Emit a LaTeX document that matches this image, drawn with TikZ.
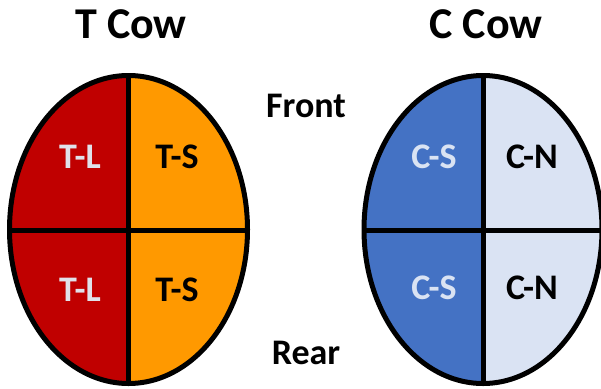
\documentclass[tikz,border=0pt]{standalone}
\usepackage{fontspec}
\setmainfont{Carlito}
\usetikzlibrary{positioning}
\definecolor{tred}{HTML}{C00000}
\definecolor{torange}{HTML}{FF9900}
\definecolor{cblue}{HTML}{4472C4}
\definecolor{clight}{HTML}{DAE3F3}
\definecolor{palegrey}{HTML}{E0E1EA}
\tikzset{%
	cow title/.style={
		font=\fontsize{44}{50}\selectfont\bfseries
	},
	quarter/.style={
		font=\fontsize{36}{42}\selectfont\bfseries
	},
	udder line/.style={
		line width=5pt
	},
}

\begin{document}
\begin{tikzpicture}[x=1pt,y=-1pt]
			\useasboundingbox (0,0) rectangle (601,388);
			\coordinate (tcenter) at (128.5,229.5);
			\coordinate (ccenter) at (483,229.5);
			
			% Draw the T cow
			\begin{scope}
				\clip (tcenter) ellipse (119 and 154);
				\fill[tred] (0,60) rectangle (tcenter |- 0,400);
				\fill[torange] (tcenter |- 0,60) rectangle (260,400);
			\end{scope}
			\draw[udder line] (128.5,76) -- (128.5,383);
			\draw[udder line] (10,230) -- (247,230);
			\draw[udder line] (tcenter) ellipse (119 and 154);
			\node[cow title] (tcow) at (131,24) {T Cow};
			\node[quarter, text=palegrey] (tl1) at (80,156.5) {T-L};
			\node[quarter] (ts1) at (177,156.5) {T-S};
			\node[quarter, text=palegrey] (tl2) at (80,290) {T-L};
			\node[quarter] (ts2) at (177,290) {T-S};
			
			% Draw the C cow
			\begin{scope}
				\clip (ccenter) ellipse (119 and 154);
				\fill[cblue] (350,60) rectangle (ccenter |- 0,400);
				\fill[clight] (ccenter |- 0,60) rectangle (620,400);
			\end{scope}
			\draw[udder line] (483,76) -- (483,383);
			\draw[udder line] (364,230) -- (601,230);
			\draw[udder line] (ccenter) ellipse (119 and 154);
			\node[cow title] (ccow) at (486,24) {C Cow};
			\node[quarter, text=clight] (cs1) at (434,157) {C-S};
			\node[quarter] (cn1) at (532,157) {C-N};
			\node[quarter, text=clight] (cs2) at (434,288) {C-S};
			\node[quarter] (cn2) at (532,288) {C-N};
			
			% Front and rear
			\node[quarter] (front) at (306,105.5) {Front};
			\node[quarter] (rear) at (306,352.5) {Rear};
			
		\end{tikzpicture}
\end{document}
